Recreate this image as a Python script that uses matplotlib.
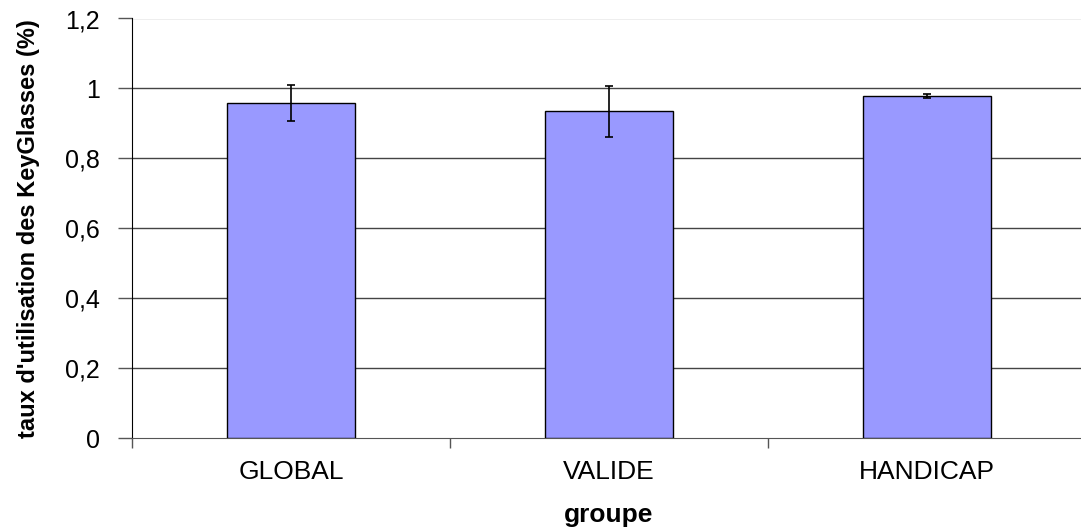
import matplotlib
matplotlib.use("Agg")
import matplotlib.pyplot as plt
import numpy as np

categories = ["GLOBAL", "VALIDE", "HANDICAP"]
values = [0.958, 0.934, 0.978]
errors = [0.051, 0.073, 0.006]
ytick_values = [0, 0.2, 0.4, 0.6, 0.8, 1.0, 1.2]
ytick_labels = ["0", "0,2", "0,4", "0,6", "0,8", "1", "1,2"]

plt.rcParams['font.family'] = ['Liberation Sans', 'DejaVu Sans']

W, H = 1081, 527
fig = plt.figure(figsize=(W / 100, H / 100), dpi=100)
ax = fig.add_axes([132 / W, 1 - 438 / H, (1086 - 132) / W, (438 - 18.5) / H])

x = np.arange(len(categories))
ax.bar(x, values, width=0.4, color="#9999FF", edgecolor="black", linewidth=1.0, zorder=3)
ax.errorbar(x, values, yerr=errors, fmt="none", ecolor="black", elinewidth=1.2,
            capsize=3, capthick=1.2, zorder=4)

ax.set_xlim(-0.5, len(categories) - 0.5)
ax.set_ylim(0, 1.2)
ax.set_yticks(ytick_values)
ax.set_yticklabels(ytick_labels, fontsize=18)
for yv in ytick_values[1:]:
    ax.axhline(yv, color="#444444" if yv < 1.2 else "#aaaaaa", linewidth=1.0, zorder=1)

ax.set_xticks(np.arange(len(categories) + 1) - 0.5, minor=False)
ax.set_xticklabels([])
ax.set_xticks(x, minor=True)
ax.set_xticklabels(categories, minor=True, fontsize=19)
ax.tick_params(axis="x", which="minor", length=0, pad=16)
ax.tick_params(axis="x", which="major", length=7, width=1, color="#555555", direction="out")
ax.tick_params(axis="y", length=10, width=1, color="#555555", direction="out", pad=13)

for s in ["top", "right"]:
    ax.spines[s].set_visible(False)
ax.spines["left"].set_color("black")
ax.spines["bottom"].set_color("#555555")

ax.set_xlabel("groupe", fontsize=19, fontweight="bold")
ax.xaxis.set_label_coords(0.4995, (438 - 503) / (438 - 18.5))
ax.set_ylabel("taux d'utilisation des KeyGlasses (%)", fontsize=17, fontweight="bold")
ax.yaxis.set_label_coords((40 - 132) / (1086 - 132), (438 - 229) / (438 - 18.5))

fig.savefig("out.png", dpi=100)
